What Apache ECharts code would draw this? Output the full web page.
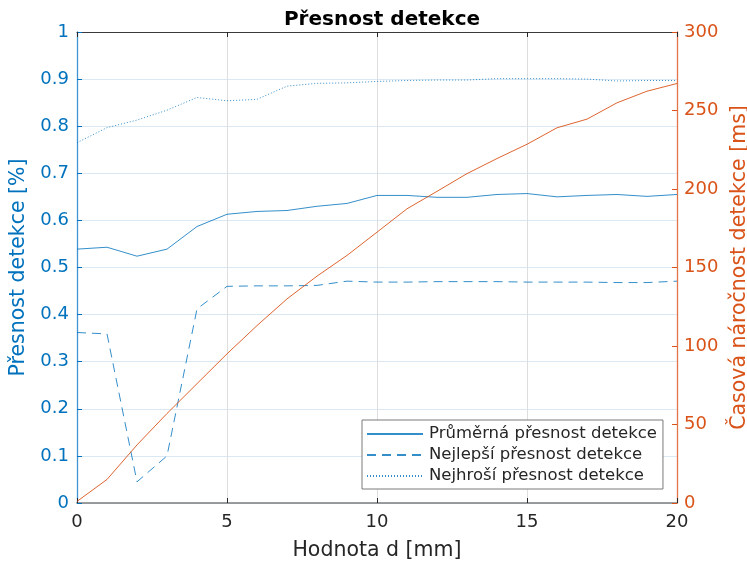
<!DOCTYPE html>
<html>
<head>
<meta charset="utf-8">
<script src="https://cdn.jsdelivr.net/npm/echarts@6/dist/echarts.min.js"></script>
<style>html,body{margin:0;padding:0;background:#fff}#c{width:747px;height:561px}</style>
</head>
<body>
<div id="c"></div>
<script>
const xValues = [0,1,2,3,4,5,6,7,8,9,10,11,12,13,14,15,16,17,18,19,20];
const meanAcc = [0.539,0.543,0.524,0.539,0.587,0.613,0.619,0.621,0.630,0.636,0.653,0.653,0.649,0.649,0.655,0.657,0.650,0.653,0.655,0.651,0.655];
const bestAcc = [0.362,0.359,0.045,0.100,0.412,0.460,0.461,0.461,0.462,0.471,0.469,0.469,0.470,0.470,0.470,0.469,0.469,0.469,0.468,0.468,0.471];
const worstAcc = [0.765,0.797,0.813,0.834,0.861,0.854,0.857,0.885,0.891,0.892,0.895,0.897,0.898,0.898,0.901,0.901,0.901,0.900,0.896,0.897,0.897];
const timeMs = [1,15,37,57,76,95,113,130,144.5,157.7,172.5,187.4,198.5,209.8,219.4,228.5,239,244.5,254.9,262.3,267.2];
const seriesNames = ['Průměrná přesnost detekce','Nejlepší přesnost detekce','Nejhroší přesnost detekce'];

const BLUE = '#0072BD', ORANGE = '#D95319', DARK = '#262626';
const FONT = 'DejaVu Sans';
const pair = (ys) => xValues.map((x,i)=>[x, ys[i]]);

const chart = echarts.init(document.getElementById('c'), null, {renderer:'canvas'});
chart.setOption({
  animation:false,
  textStyle:{fontFamily:FONT},
  title:{text:'Přesnost detekce', left:377, top:5, textAlign:'center',
    textStyle:{fontFamily:FONT, fontSize:20, fontWeight:'bold', color:'#000'}},
  grid:{left:77, right:70, top:32, bottom:58, containLabel:false, outerBoundsMode:'none'},
  legend:{
    data: seriesNames.map(n=>({name:n})),
    orient:'vertical', left:362, top:420,
    backgroundColor:'#fff', borderColor:'#7a7a7a', borderWidth:1, borderRadius:0,
    padding:[4,6,3,4], itemGap:1, itemWidth:56, itemHeight:20,
    itemStyle:{opacity:0},
    textStyle:{fontFamily:FONT, fontSize:16.5, lineHeight:20, color:DARK, padding:[0,0,0,1]}
  },
  xAxis:[{
    type:'value', min:0, max:20, interval:5,
    name:'Hodnota d [mm]', nameLocation:'middle', nameGap:37,
    nameTextStyle:{fontFamily:FONT, fontSize:20.5, color:DARK},
    axisLine:{show:true, onZero:false, lineStyle:{color:'#7d7d7d', width:1.6}},
    axisTick:{show:true, inside:true, length:5, lineStyle:{color:DARK}},
    axisLabel:{fontFamily:FONT, fontSize:18, color:DARK, margin:10},
    splitLine:{show:true, lineStyle:{color:'#dedede', width:1}}
  },{
    type:'value', min:0, max:20, interval:5, position:'top',
    axisLine:{show:true, onZero:false, lineStyle:{color:'#3a3a3a', width:1}},
    axisTick:{show:true, inside:true, length:5, lineStyle:{color:DARK}},
    axisLabel:{show:false}, splitLine:{show:false}
  }],
  yAxis:[{
    type:'value', min:0, max:1, interval:0.1, position:'left',
    name:'Přesnost detekce [%]', nameLocation:'middle', nameGap:43,
    nameTextStyle:{fontFamily:FONT, fontSize:20.5, color:BLUE},
    axisLine:{show:true, onZero:false, lineStyle:{color:'#3f94d4', width:1.3}},
    axisTick:{show:true, inside:true, length:5, lineStyle:{color:BLUE}},
    axisLabel:{fontFamily:FONT, fontSize:18, color:BLUE, margin:8,
      formatter:v=>String(Math.round(v*10)/10)},
    splitLine:{show:true, lineStyle:{color:'#dae8f3', width:1}}
  },{
    type:'value', min:0, max:300, interval:50, position:'right',
    name:'Časová náročnost detekce [ms]', nameLocation:'middle', nameGap:44,
    nameTextStyle:{fontFamily:FONT, fontSize:20.5, color:ORANGE},
    axisLine:{show:true, onZero:false, lineStyle:{color:'#e27447', width:1.3}},
    axisTick:{show:true, inside:true, length:5, lineStyle:{color:ORANGE}},
    axisLabel:{fontFamily:FONT, fontSize:18, color:ORANGE, margin:7},
    splitLine:{show:false}
  }],
  series:[
    {name:seriesNames[0], type:'line', xAxisIndex:0, yAxisIndex:0, data:pair(meanAcc),
     symbol:'none', color:BLUE, lineStyle:{color:BLUE, width:1, type:'solid', opacity:0.8}},
    {name:seriesNames[1], type:'line', xAxisIndex:0, yAxisIndex:0, data:pair(bestAcc),
     symbol:'none', color:BLUE, lineStyle:{color:BLUE, width:1, type:[9,6], opacity:0.8}},
    {name:seriesNames[2], type:'line', xAxisIndex:0, yAxisIndex:0, data:pair(worstAcc),
     symbol:'none', color:BLUE, lineStyle:{color:BLUE, width:1, type:[1,2], opacity:0.8}},
    {name:'time', type:'line', xAxisIndex:0, yAxisIndex:1, data:pair(timeMs),
     symbol:'none', color:ORANGE, lineStyle:{color:ORANGE, width:1, opacity:0.9}}
  ]
});
</script>
</body>
</html>
